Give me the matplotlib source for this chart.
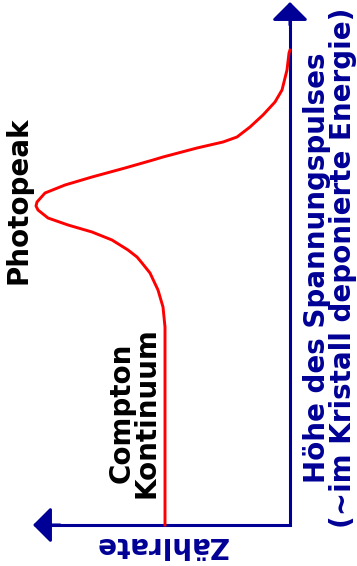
import matplotlib
matplotlib.use('Agg')
import matplotlib.pyplot as plt

# spectrum: energy (pulse height, up) vs. counts (to the left)
energie = [0, 125, 198, 218, 235, 252, 262, 268, 275, 280, 285, 293, 300, 307,
           315, 319, 323, 332, 340, 348, 357, 365, 368, 377, 383, 388, 398, 410,
           423, 435, 455, 472, 475]
zaehlrate = [125, 125, 125, 127, 132, 140, 148, 153, 162, 170, 178, 198, 222, 242,
             252, 254, 253, 245, 225, 198, 165, 137, 127, 93, 67, 53, 40, 27,
             15, 8, 3, 1, 0]

blau = '#000096'
rot = '#ff0000'

fig = plt.figure(figsize=(3.57, 5.66), dpi=100)
ax = fig.add_axes([0, 0, 1, 1])
ax.set_xlim(290, -67)
ax.set_ylim(-41, 525)
ax.axis('off')

# axes with arrows
ax.plot([0, 0, 242], [510, 0, 0], color=blau, lw=2.2, solid_joinstyle='miter',
        solid_capstyle='butt')
arrow = dict(arrowstyle='-|>,head_length=1.1,head_width=1.1', color=blau, lw=2.2,
             shrinkA=0, shrinkB=0)
ax.annotate('', xy=(0, 523), xytext=(0, 500), arrowprops=arrow)
ax.annotate('', xy=(257, 0), xytext=(230, 0), arrowprops=arrow)

# curve
ax.plot(zaehlrate, energie, color=rot, lw=2.1, solid_joinstyle='round')

# labels
ax.text(129, -20, 'Zählrate', rotation=180, rotation_mode='anchor', color=blau,
        fontsize=20, fontweight='bold', ha='center', va='center')
ax.text(-40, 257, 'Höhe des Spannungspulses\n(~im Kristall deponierte Energie)',
        rotation=90, color=blau, fontsize=20, fontweight='bold', ha='center',
        va='center', multialignment='center', linespacing=0.88)
ax.text(271, 325, 'Photopeak', rotation=90, color='black', fontsize=20,
        fontweight='bold', ha='center', va='center')
ax.text(156, 112, 'Compton\nKontinuum', rotation=90, color='black', fontsize=20,
        fontweight='bold', ha='center', va='center', multialignment='center',
        linespacing=0.85)

fig.savefig('out.png', dpi=100)
